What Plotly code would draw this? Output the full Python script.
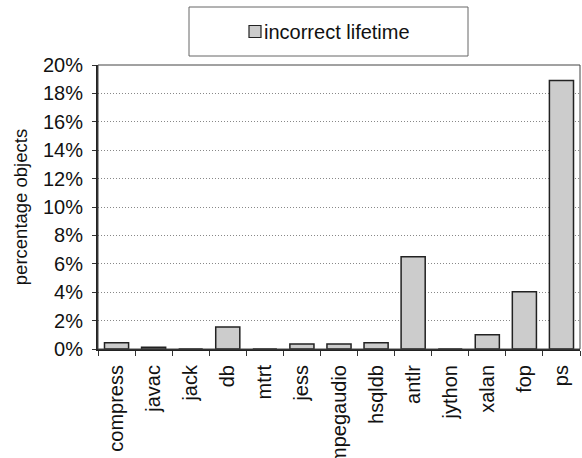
import plotly.graph_objects as go

categories = ["compress", "javac", "jack", "db", "mtrt", "jess", "mpegaudio",
              "hsqldb", "antlr", "jython", "xalan", "fop", "ps"]
incorrect_lifetime = [0.44, 0.13, 0.0, 1.55, 0.0, 0.35, 0.35,
                      0.44, 6.5, 0.0, 1.0, 4.04, 18.9]
y_ticks = list(range(0, 21, 2))
y_tick_labels = [f"{v}%" for v in y_ticks]
series_name = "incorrect lifetime"

W, H = 582, 458
L, R, T, B = 98, 580, 65, 349
FONT = "Liberation Sans, Arial, sans-serif"


def px_x(p):
    return (p - L) / (R - L)


def px_y(p):
    return (B - p) / (B - T)


fig = go.Figure()
fig.add_trace(go.Bar(
    x=categories, y=incorrect_lifetime, name=series_name,
    marker=dict(color="#cccccc", line=dict(color="#222222", width=1.5)),
    showlegend=False,
))

shapes = [
    # plot frame
    dict(type="rect", xref="paper", yref="paper", x0=0, x1=1, y0=0, y1=1,
         line=dict(color="#444444", width=1), layer="above"),
    # legend box
    dict(type="rect", xref="paper", yref="paper",
         x0=px_x(189), x1=px_x(468), y0=px_y(56), y1=px_y(7),
         line=dict(color="#666666", width=1)),
    # legend symbol
    dict(type="rect", xref="paper", yref="paper",
         x0=px_x(249), x1=px_x(261), y0=px_y(37.5), y1=px_y(25.5),
         fillcolor="#cccccc", line=dict(color="#222222", width=1.2)),
]

annotations = [
    dict(text=series_name, xref="paper", yref="paper", x=px_x(262), y=px_y(31.5),
         xanchor="left", yanchor="middle", showarrow=False,
         font=dict(size=20, color="#111111", family=FONT)),
]

fig.update_layout(
    width=W, height=H,
    margin=dict(l=L, r=W - R, t=T, b=H - B, autoexpand=False),
    paper_bgcolor="white", plot_bgcolor="white",
    font=dict(family=FONT, size=20, color="#111111"),
    bargap=0.35,
    shapes=shapes, annotations=annotations,
    showlegend=False,
)
fig.update_xaxes(
    type="category", tickangle=-90, tickson="boundaries",
    ticks="outside", ticklen=5, tickcolor="#333333", tickwidth=1,
    showline=True, linecolor="#222222", linewidth=2,
    showgrid=False, automargin=False, ticklabelstandoff=6,
    tickfont=dict(size=20, family=FONT, color="#111111"),
)
fig.update_yaxes(
    range=[0, 20], tickvals=y_ticks, ticktext=y_tick_labels,
    ticks="outside", ticklen=4, tickcolor="#333333", tickwidth=1,
    showline=True, linecolor="#222222", linewidth=2,
    showgrid=True, gridcolor="#888888", griddash="1px,2px", gridwidth=1,
    zeroline=False, automargin=False, ticklabelstandoff=5,
    title=dict(text="percentage objects", font=dict(size=18.5, family=FONT, color="#111111"),
               standoff=10),
    tickfont=dict(size=20, family=FONT, color="#111111"),
)

fig.write_html("out.html", config={"displayModeBar": False},
               post_script="document.body.style.margin='0';")
